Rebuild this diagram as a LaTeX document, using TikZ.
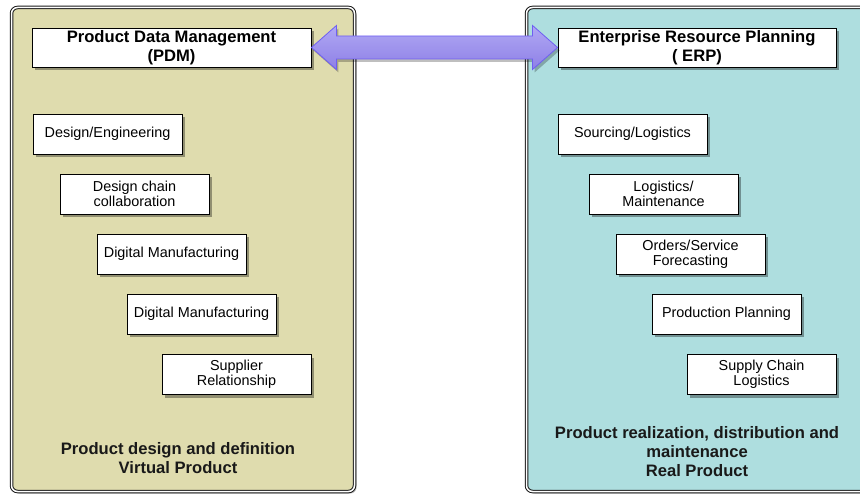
\documentclass[tikz,border=0pt]{standalone}
\usepackage{fontspec}
\setmainfont{Liberation Sans}
\usetikzlibrary{shadows,calc}
\definecolor{pdmfill}{HTML}{DFDCAE}
\definecolor{erpfill}{HTML}{AEDEDF}
\definecolor{arrowtop}{HTML}{B0A8F4}
\definecolor{arrowbot}{HTML}{8E80E6}
\definecolor{arrowline}{HTML}{6E5FF2}
\definecolor{frameline}{HTML}{1A1A1A}
\tikzset{
  panel/.style={draw=frameline, double=white, line width=1pt, double distance=1.5pt, rounded corners=6pt,
    drop shadow={shadow xshift=2pt, shadow yshift=-2pt, opacity=0.25, fill=black}},
  itembox/.style={draw=black, line width=0.9pt, fill=white, minimum width=149pt, minimum height=40pt,
    inner sep=0pt, align=center, font=\fontsize{14.4}{15}\selectfont,
    drop shadow={shadow xshift=2.5pt, shadow yshift=-3.5pt, opacity=0.35, fill=black}},
  titlebox/.style={itembox, minimum width=279pt, minimum height=39pt, font=\fontsize{16.6}{19}\selectfont\bfseries},
  caption/.style={align=center, inner sep=0pt, text=black!90, font=\fontsize{16.6}{19}\selectfont\bfseries},
  bigarrow/.style={draw=arrowline, line width=0.8pt, top color=arrowtop, bottom color=arrowbot, line join=miter,
    drop shadow={shadow xshift=2pt, shadow yshift=-3pt, opacity=0.25, fill=black}}
}
\begin{document}
\begin{tikzpicture}[x=1pt,y=-1pt]
\useasboundingbox (0,0) rectangle (860,494);
% panels
\path[panel, fill=pdmfill] (11.5,7.5) rectangle (354.5,491.5);
\path[panel, fill=erpfill] (526.5,7.5) rectangle (868,491.5);
% titles
\node[titlebox] (pdm) at (171.5,47.5) {Product Data Management\\(PDM)};
\node[titlebox, minimum width=278pt] (erp) at (697,47.5) {Enterprise Resource Planning\\( ERP)};
% double arrow
\path[bigarrow] (pdm.east) -- ++(25,-22) -- ++(0,10.5) -- ($(erp.west)+(-25,-11.5)$) -- ++(0,-10.5)
  -- (erp.west) -- ++(-25,22) -- ++(0,-10.5) -- ($(pdm.east)+(25,11.5)$) -- ++(0,10.5) -- cycle;
% left items
\node[itembox] (l1) at (107.5,134) {Design/Engineering};
\node[itembox] (l2) at (134.5,194) {Design chain\\collaboration};
\node[itembox] (l3) at (171.5,254) {Digital Manufacturing};
\node[itembox] (l4) at (201.5,314) {Digital Manufacturing};
\node[itembox] (l5) at (236.5,374.5) {Supplier\\Relationship};
% right items
\node[itembox] (r1) at (632.5,134) {Sourcing/Logistics};
\node[itembox] (r2) at (663.5,194) {Logistics/\\Maintenance};
\node[itembox] (r3) at (690.5,254) {Orders/Service\\Forecasting};
\node[itembox] (r4) at (726.5,314) {Production Planning};
\node[itembox] (r5) at (761.5,374.5) {Supply Chain\\Logistics};
% captions
\node[caption] (lcap) at (178,458) {Product design and definition\\Virtual Product};
\node[caption] (rcap) at (697,452) {Product realization, distribution and\\maintenance\\Real Product};
\end{tikzpicture}
\end{document}
